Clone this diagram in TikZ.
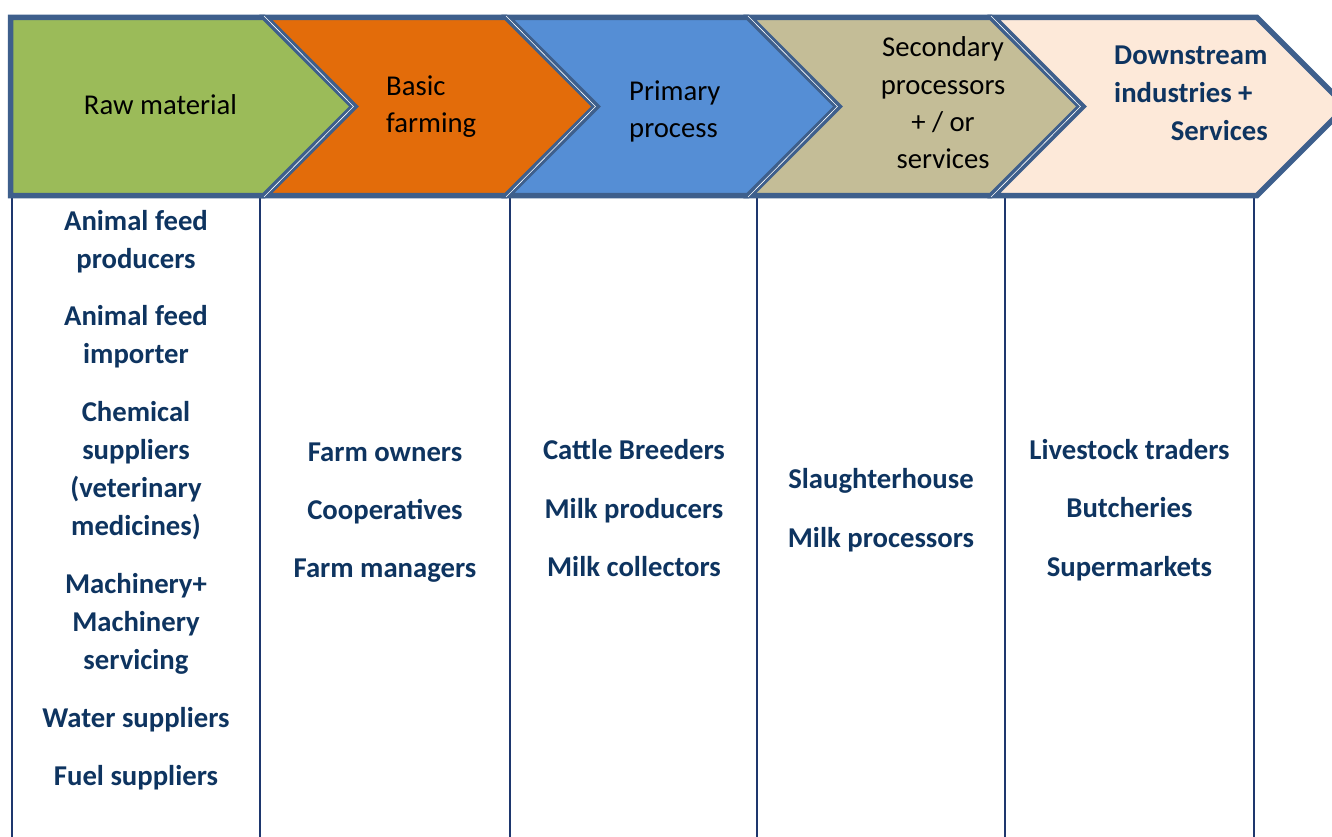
\documentclass[tikz,border=0pt]{standalone}
\usepackage{fontspec}
\setmainfont{Carlito}
\definecolor{bordc}{RGB}{62,95,140}
\definecolor{cgreen}{RGB}{155,187,89}
\definecolor{corange}{RGB}{227,108,10}
\definecolor{cblue}{RGB}{85,142,213}
\definecolor{ctan}{RGB}{196,189,151}
\definecolor{cpeach}{RGB}{253,233,217}
\definecolor{navy}{RGB}{14,52,96}
\definecolor{colc}{RGB}{30,55,110}
\tikzset{
  chev/.style={draw=bordc, line width=5.5pt, line join=miter},
  hairline/.style={draw=white, line width=0.6pt},
  hd/.style={font=\fontsize{28.7}{37}\selectfont, text=black, inner sep=0pt, anchor=base},
  hdb/.style={font=\fontsize{28.7}{37}\selectfont\bfseries, text=navy, inner sep=0pt},
  bd/.style={font=\fontsize{28.7}{38}\selectfont\bfseries, text=navy, inner sep=0pt, anchor=base},
  col/.style={draw=colc, line width=1.6pt}
}
\begin{document}
\begin{tikzpicture}[x=1pt,y=-1pt]
\useasboundingbox (0,0) rectangle (1332,837);
\clip (0,0) rectangle (1332,837);
\fill[white] (0,0) rectangle (1332,837);

% column lines
\foreach \x [count=\i] in {12,260,510,757,1005,1254}{
  \coordinate (ct\i) at (\x,197);
  \coordinate (cb\i) at (\x,837);
  \draw[col] (ct\i) -- (cb\i);
}

% chevrons
\def\T{17.5}\def\B{195.5}\def\M{106.5}
\filldraw[chev, fill=cgreen] (10.5,\T) -- (264,\T) -- (353,\M) -- (264,\B) -- (10.5,\B) -- cycle;
\filldraw[chev, fill=corange] (266,\T) -- (506,\T) -- (595,\M) -- (506,\B) -- (266,\B) -- (355,\M) -- cycle;
\draw[hairline] (264,16) -- (353.5,106.5) -- (264,197);
\filldraw[chev, fill=cblue] (508,\T) -- (748,\T) -- (837,\M) -- (748,\B) -- (508,\B) -- (597,\M) -- cycle;
\draw[hairline] (506,16) -- (595.5,106.5) -- (506,197);
\filldraw[chev, fill=ctan] (750,\T) -- (991,\T) -- (1080,\M) -- (991,\B) -- (750,\B) -- (839,\M) -- cycle;
\draw[hairline] (748,16) -- (837.5,106.5) -- (748,197);
\filldraw[chev, fill=cpeach] (994,\T) -- (1257,\T) -- (1346,\M) -- (1257,\B) -- (994,\B) -- (1083,\M) -- cycle;
\draw[hairline] (991,16) -- (1080.5,106.5) -- (991,197);

% header texts
\node[hd, anchor=base] (h1) at (160.5,115) {Raw material};
\node[hd, anchor=base west] (h2a) at (386,96) {Basic};
\node[hd, anchor=base west] (h2b) at (386,133) {farming};
\node[hd, anchor=base west] (h3a) at (629,101) {Primary};
\node[hd, anchor=base west] (h3b) at (629,138) {process};
\node[hd] (h4a) at (943,57) {Secondary};
\node[hd] (h4b) at (943,95) {processors};
\node[hd] (h4c) at (943,132) {+ / or};
\node[hd] (h4d) at (943,169) {services};
\node[hdb, anchor=base west] (h5a) at (1114,65) {Downstream};
\node[hdb, anchor=base west] (h5b) at (1114,103) {industries +};
\node[hdb, anchor=base east] (h5c) at (1268,141) {Services};

% column 1
\node[bd] (a1) at (136,230) {Animal feed};
\node[bd] (a2) at (136,268) {producers};
\node[bd] (a3) at (136,325) {Animal feed};
\node[bd] (a4) at (136,363) {importer};
\node[bd] (a5) at (136,421) {Chemical};
\node[bd] (a6) at (136,459) {suppliers};
\node[bd] (a7) at (136,497) {(veterinary};
\node[bd] (a8) at (136,535) {medicines)};
\node[bd] (a9) at (136,593) {Machinery+};
\node[bd] (a10) at (136,631) {Machinery};
\node[bd] (a11) at (136,669) {servicing};
\node[bd] (a12) at (136,727) {Water suppliers};
\node[bd] (a13) at (136,785) {Fuel suppliers};

% column 2
\node[bd] (b1) at (385,461) {Farm owners};
\node[bd] (b2) at (385,519) {Cooperatives};
\node[bd] (b3) at (385,577) {Farm managers};

% column 3
\node[bd] (c1) at (634,459) {Cattle Breeders};
\node[bd] (c2) at (634,518) {Milk producers};
\node[bd] (c3) at (634,576) {Milk collectors};

% column 4
\node[bd] (d1) at (881,488) {Slaughterhouse};
\node[bd] (d2) at (881,547) {Milk processors};

% column 5
\node[bd] (e1) at (1129.5,459) {Livestock traders};
\node[bd] (e2) at (1129.5,517) {Butcheries};
\node[bd] (e3) at (1129.5,576) {Supermarkets};
\end{tikzpicture}
\end{document}
